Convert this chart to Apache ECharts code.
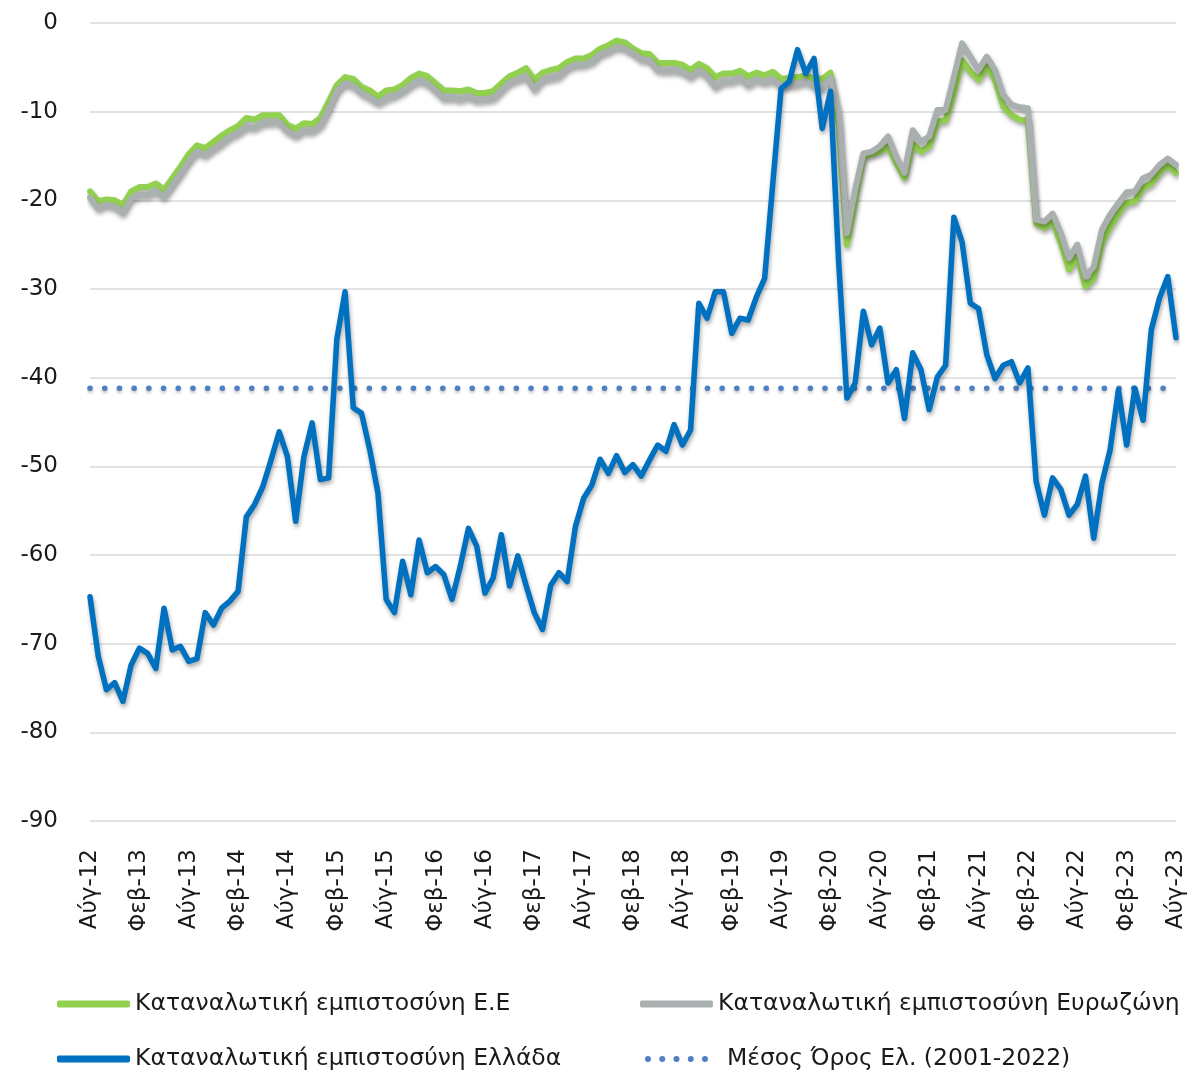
<!DOCTYPE html>
<html>
<head>
<meta charset="utf-8">
<script src="https://cdn.jsdelivr.net/npm/echarts@6/dist/echarts.min.js"></script>
<style>
  html, body { margin: 0; padding: 0; background: #fff; }
  #chart { width: 1191px; height: 1071px; }
</style>
</head>
<body>
<div id="chart"></div>
<script>
// μήνες άξονα (Αύγ-12 ... Αύγ-23, μηνιαία)
const μήνες = ["Ιαν", "Φεβ", "Μαρ", "Απρ", "Μαΐ", "Ιουν", "Ιουλ", "Αύγ", "Σεπ", "Οκτ", "Νοέ", "Δεκ"];
const κατηγορίες = [];
for (let έτος = 2012; έτος <= 2023; έτος++) {
  for (let μ = 0; μ < 12; μ++) {
    if (έτος === 2012 && μ < 7) continue;
    if (έτος === 2023 && μ > 7) continue;
    κατηγορίες.push(μήνες[μ] + "-" + String(έτος).slice(2));
  }
}

const εμπιστοσύνηΕΕ = [
  -19.0, -20.1, -19.9, -20.0, -20.5, -19.0, -18.5, -18.5, -18.1, -18.8,
  -17.5, -16.2, -14.8, -13.8, -14.1, -13.4, -12.7, -12.1, -11.6, -10.7,
  -10.9, -10.4, -10.4, -10.4, -11.5, -11.9, -11.3, -11.4, -10.7, -8.9,
  -7.0, -6.1, -6.3, -7.2, -7.6, -8.3, -7.6, -7.5, -7.0, -6.2,
  -5.7, -6.0, -6.8, -7.6, -7.6, -7.7, -7.5, -7.9, -7.9, -7.7,
  -6.8, -6.0, -5.6, -5.1, -6.4, -5.6, -5.3, -5.1, -4.4, -4.0,
  -4.0, -3.6, -2.9, -2.5, -2.0, -2.2, -2.9, -3.4, -3.5, -4.5,
  -4.5, -4.5, -4.7, -5.3, -4.6, -5.1, -6.1, -5.7, -5.7, -5.4,
  -6.0, -5.6, -5.9, -5.5, -6.3, -6.2, -6.1, -5.9, -6.3, -6.3,
  -5.6, -11.5, -25.0, -20.0, -15.1, -14.8, -14.5, -13.9, -15.8, -17.5,
  -13.6, -14.5, -13.9, -11.1, -11.0, -7.9, -4.2, -5.5, -6.4, -4.9,
  -6.4, -9.4, -10.4, -10.9, -11.0, -22.6, -23.1, -22.4, -24.8, -27.8,
  -26.3, -29.7, -28.8, -24.8, -23.0, -21.5, -20.3, -20.1, -18.6, -18.1,
  -16.9, -16.0, -16.9
];

const εμπιστοσύνηΕυρωζώνη = [
  -19.7, -20.9, -20.5, -20.7, -21.4, -19.8, -19.4, -19.4, -19.0, -19.6,
  -18.3, -17.0, -15.6, -14.5, -14.9, -14.2, -13.6, -12.8, -12.4, -11.7,
  -11.8, -11.3, -11.2, -11.2, -12.2, -12.7, -12.1, -12.2, -11.6, -9.8,
  -7.7, -6.8, -7.1, -7.9, -8.4, -9.0, -8.5, -8.2, -7.7, -7.0,
  -6.5, -6.8, -7.6, -8.5, -8.4, -8.6, -8.3, -8.7, -8.6, -8.5,
  -7.6, -6.7, -6.4, -6.0, -7.5, -6.4, -6.2, -6.0, -5.1, -4.7,
  -4.7, -4.4, -3.5, -3.2, -2.7, -2.9, -3.4, -4.1, -4.2, -5.3,
  -5.4, -5.3, -5.5, -6.1, -5.3, -6.0, -7.2, -6.6, -6.6, -6.2,
  -7.0, -6.4, -6.7, -6.4, -7.1, -7.0, -6.9, -6.6, -7.1, -7.4,
  -6.2, -10.0, -23.7, -18.8, -14.7, -14.5, -13.9, -12.8, -15.1, -16.9,
  -12.1, -13.4, -12.8, -9.8, -9.8, -6.1, -2.3, -3.8, -5.3, -3.8,
  -5.3, -8.1, -9.2, -9.5, -9.6, -22.2, -22.4, -21.5, -23.7, -26.5,
  -25.0, -28.6, -27.5, -23.3, -21.6, -20.3, -19.1, -19.0, -17.5, -17.1,
  -16.0, -15.3, -16.0
];

const εμπιστοσύνηΕλλάδα = [
  -64.7, -71.4, -75.2, -74.4, -76.5, -72.4, -70.5, -71.1, -72.8, -66.0,
  -70.7, -70.3, -72.0, -71.7, -66.5, -67.9, -66.0, -65.2, -64.1, -55.7,
  -54.3, -52.3, -49.3, -46.1, -48.9, -56.2, -48.9, -45.1, -51.5, -51.3,
  -35.7, -30.3, -43.4, -44.0, -48.1, -53.0, -65.0, -66.5, -60.7, -64.5,
  -58.3, -62.0, -61.3, -62.2, -65.0, -61.3, -57.0, -59.0, -64.3, -62.6,
  -57.7, -63.5, -60.1, -63.4, -66.5, -68.4, -63.4, -62.0, -63.0, -56.8,
  -53.6, -52.1, -49.2, -50.8, -48.8, -50.7, -49.8, -51.1, -49.3, -47.6,
  -48.3, -45.3, -47.6, -45.9, -31.6, -33.3, -30.3, -30.3, -35.0, -33.3,
  -33.5, -30.9, -28.8, -18.0, -7.4, -6.6, -3.0, -5.7, -4.0, -11.9,
  -7.7, -27.0, -42.3, -40.6, -32.5, -36.3, -34.4, -40.6, -39.1, -44.6,
  -37.2, -39.1, -43.6, -39.9, -38.6, -21.9, -24.7, -31.6, -32.2, -37.4,
  -40.1, -38.6, -38.2, -40.6, -38.9, -51.7, -55.5, -51.3, -52.6, -55.5,
  -54.3, -51.1, -58.1, -51.9, -48.1, -41.4, -47.6, -41.2, -44.8, -34.6,
  -31.0, -28.6, -35.5
];

// μέσος όρος Ελλάδας 2001-2022 (οριζόντια γραμμή)
const μέσοςΌρος = -41.2;
const μέσοςΌροςΆκρα = [0, 131];

const γραμματοσειρά = "DejaVu Sans";
const χρώμαΚειμένου = "#1a1a1a";

const σκιά = {
  shadowColor: "rgba(0,0,0,0.35)",
  shadowBlur: 4,
  shadowOffsetX: 1,
  shadowOffsetY: 3,
};

// εικονίδιο με 5 τελείες για το υπόμνημα του μέσου όρου
let τελείες = "path://";
for (let k = 0; k < 5; k++) {
  const cx = 3 + k * 14.25;
  τελείες += "M" + (cx - 3) + ",3a3,3 0 1,0 6,0a3,3 0 1,0 -6,0";
}

const myChart = echarts.init(document.getElementById("chart"));

function υπόμνημα(όνομα, left, top, icon, πλάτος, κενό) {
  return {
    data: [όνομα],
    left: left,
    top: top,
    padding: 0,
    icon: icon,
    itemWidth: πλάτος,
    itemHeight: 7,
    itemGap: 0,
    itemStyle: { borderWidth: 0 },
    textStyle: {
      fontFamily: γραμματοσειρά,
      fontSize: 23.5,
      color: χρώμαΚειμένου,
      padding: [0, 0, 0, κενό],
    },
    selectedMode: false,
  };
}

const option = {
  backgroundColor: "#fff",
  animation: false,
  grid: { left: 90, right: 15, top: 23, bottom: 250, containLabel: false },
  legend: [
    υπόμνημα("Καταναλωτική εμπιστοσύνη Ε.Ε", 57, 992, "roundRect", 73, 0),
    υπόμνημα("Καταναλωτική εμπιστοσύνη Ευρωζώνη", 640, 992, "roundRect", 73, 0),
    υπόμνημα("Καταναλωτική εμπιστοσύνη Ελλάδα", 57, 1047, "roundRect", 73, 0),
    υπόμνημα("Μέσος Όρος Ελ. (2001-2022)", 645, 1047, τελείες, 63, 14),
  ],
  xAxis: {
    type: "category",
    data: κατηγορίες,
    boundaryGap: false,
    axisLine: { show: false },
    axisTick: { show: false },
    splitLine: { show: false },
    axisLabel: {
      interval: 5,
      rotate: 90,
      margin: 28,
      fontFamily: γραμματοσειρά,
      fontSize: 23,
      color: χρώμαΚειμένου,
    },
  },
  yAxis: {
    type: "value",
    min: -90,
    max: 0,
    interval: 10,
    axisLine: { show: false },
    axisTick: { show: false },
    splitLine: { lineStyle: { color: "#d9d9d9", width: 1.5 } },
    axisLabel: {
      margin: 32,
      fontFamily: γραμματοσειρά,
      fontSize: 23,
      color: χρώμαΚειμένου,
    },
  },
  series: [
    {
      name: "Καταναλωτική εμπιστοσύνη Ε.Ε",
      type: "line",
      data: εμπιστοσύνηΕΕ,
      symbol: "none",
      color: "#92d050",
      lineStyle: Object.assign({ width: 6, color: "#92d050", join: "round", cap: "round" }, σκιά),
      z: 2,
    },
    {
      name: "Καταναλωτική εμπιστοσύνη Ευρωζώνη",
      type: "line",
      data: εμπιστοσύνηΕυρωζώνη,
      symbol: "none",
      color: "#aab0b0",
      lineStyle: Object.assign({ width: 6, color: "#aab0b0", join: "round", cap: "round" }, σκιά),
      z: 3,
    },
    {
      name: "Μέσος Όρος Ελ. (2001-2022)",
      type: "line",
      data: μέσοςΌροςΆκρα.map((i) => [i, μέσοςΌρος]),
      symbol: "none",
      color: "#4f7fc4",
      lineStyle: {
        width: 5.5,
        color: "#4f7fc4",
        type: [0.1, 14.6],
        cap: "round",
        shadowColor: "rgba(0,0,0,0.25)",
        shadowBlur: 3,
        shadowOffsetY: 2,
      },
      z: 4,
    },
    {
      name: "Καταναλωτική εμπιστοσύνη Ελλάδα",
      type: "line",
      data: εμπιστοσύνηΕλλάδα,
      symbol: "none",
      color: "#0070c0",
      lineStyle: Object.assign({ width: 5.5, color: "#0070c0", join: "round", cap: "round" }, σκιά),
      z: 5,
    },
  ],
};

myChart.setOption(option);
</script>
</body>
</html>
